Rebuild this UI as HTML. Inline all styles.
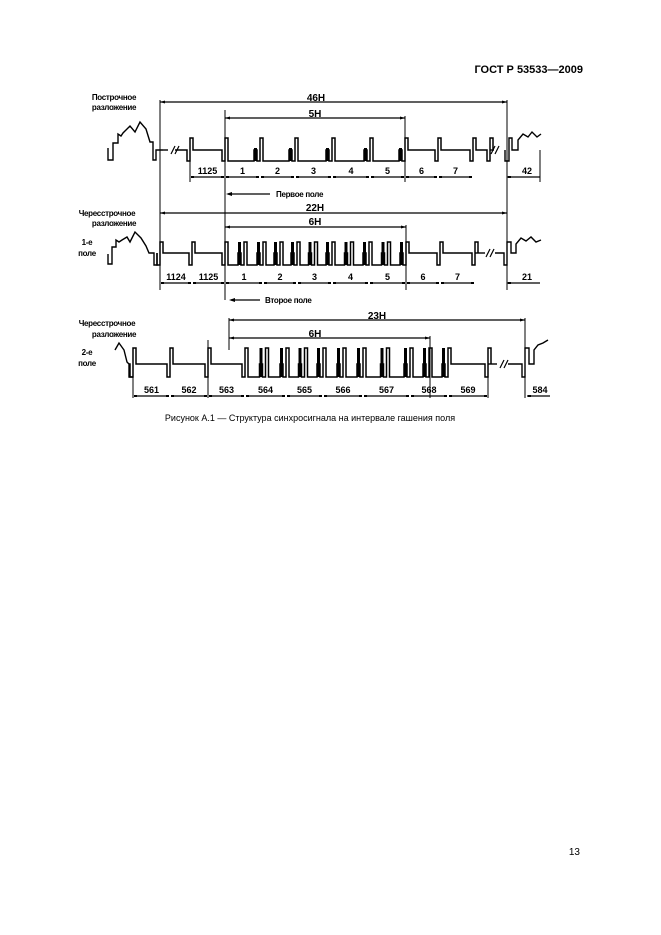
<!DOCTYPE html>
<html><head><meta charset="utf-8"><style>
html,body{margin:0;padding:0;background:#fff}
svg{display:block}
text{font-family:"Liberation Sans",sans-serif;fill:#000}
</style></head><body>
<svg id="s" width="661" height="935" viewBox="0 0 661 935" xmlns="http://www.w3.org/2000/svg">
<text x="583" y="73" font-size="11" font-weight="bold" text-anchor="end">ГОСТ Р 53533—2009</text>
<g font-size="8" font-weight="bold" letter-spacing="-0.3">
<text x="114" y="100" text-anchor="middle">Построчное</text>
<text x="114" y="110" text-anchor="middle">разложение</text>
<text x="107" y="216" text-anchor="middle">Чересстрочное</text>
<text x="114" y="226" text-anchor="middle">разложение</text>
<text x="87" y="245" text-anchor="middle">1-е</text>
<text x="87" y="256" text-anchor="middle">поле</text>
<text x="107" y="326" text-anchor="middle">Чересстрочное</text>
<text x="114" y="337" text-anchor="middle">разложение</text>
<text x="87" y="355" text-anchor="middle">2-е</text>
<text x="87" y="366" text-anchor="middle">поле</text>
<text x="276" y="197" font-size="8">Первое поле</text>
<text x="265" y="303" font-size="8">Второе поле</text>
</g>
<g font-size="10" font-weight="bold" text-anchor="middle">
<text x="316" y="101">46H</text>
<text x="315" y="117">5H</text>
<text x="315" y="211">22H</text>
<text x="315" y="225">6H</text>
<text x="377" y="319">23H</text>
<text x="315" y="337">6H</text>
</g>
<g id="g" stroke="#000" fill="none" stroke-width="1.4"></g>
<g id="t" font-size="9" font-weight="bold" text-anchor="middle"></g>
<text x="310" y="421" font-size="9" text-anchor="middle">Рисунок А.1 — Структура синхросигнала на интервале гашения поля</text>
<text x="580" y="855" font-size="10" text-anchor="end">13</text>
</svg>
<script>
var g=document.getElementById('g'),t=document.getElementById('t'),NS='http://www.w3.org/2000/svg';
function el(n,a,p){var e=document.createElementNS(NS,n);for(var k in a)e.setAttribute(k,a[k]);(p||g).appendChild(e);return e;}
function ln(x1,y1,x2,y2,w){el('line',{x1:x1,y1:y1,x2:x2,y2:y2,'stroke-width':w||1});}
function arrow(x1,x2,y){ln(x1,y,x2,y,1.3);el('path',{d:'M'+x1+' '+y+'l5 -1.5v3z',fill:'#000','stroke-width':0});el('path',{d:'M'+x2+' '+y+'l-5 -1.5v3z',fill:'#000','stroke-width':0});}
function txt(x,y,s,sz){var e=el('text',{x:x,y:y},t);if(sz)e.setAttribute('font-size',sz);e.textContent=s;}
function rect(x,y,w,h){el('rect',{x:x,y:y,width:w,height:h,fill:'#000','stroke-width':0});}
function dims(b,y,labels,ly){for(var i=0;i<labels.length;i++){var a=b[i],c=b[i+1];ln(a+1,y,c-1,y,1.2);rect(a+1,y-1,3,2);rect(c-4,y-1,3,2);txt((a+c)/2,ly,labels[i]);}}
function wave(row){
 var T=row.top,B=row.blank,L=row.low,d='M'+row.start[0][0]+' '+row.start[0][1];
 row.start.forEach(function(p,i){if(i)d+=' L'+p[0]+' '+p[1];});
 var b=row.b;
 for(var i=0;i<b.length;i++){
  var x=b[i],typ=row.types[i],nx=(i+1<b.length)?b[i+1]:null;
  d+=' L'+(x-3)+' '+B+' L'+(x-3)+' '+L+' L'+x+' '+L+' L'+x+' '+T+' L'+(x+3)+' '+T;
  if(typ==='n'){d+=' L'+(x+3)+' '+B; if(nx)d+=' L'+(nx-3)+' '+B;}
  else if(typ==='b'){d+=' L'+(x+3)+' '+L+' L'+(nx-6)+' '+L+' L'+(nx-6)+' '+B+' L'+(nx-3)+' '+B; rect(nx-6,B-2,3,L-B+2);}
  else if(typ==='s'){var m=(x+nx)/2;
   d+=' L'+(x+3)+' '+L+' L'+(m-6)+' '+L+' L'+(m-6)+' '+B+' L'+(m-3)+' '+B+' L'+(m-3)+' '+L+' L'+m+' '+L+' L'+m+' '+T+' L'+(m+3)+' '+T+' L'+(m+3)+' '+L+' L'+(nx-6)+' '+L+' L'+(nx-6)+' '+B+' L'+(nx-3)+' '+B;
   rect(m-6,T,3,L-T);rect(nx-6,T,3,L-T);}
 }
 el('path',{d:d,'stroke-width':1.5});
}
function brk(x,y){ln(x-3,y+4,x+1,y-4,1.2);ln(x+1,y+4,x+5,y-4,1.2);}
// ROW 1
arrow(160,507,102);arrow(225,405,118);
ln(160,100,160,290);ln(225,110,225,300);ln(405,116,405,182);ln(507,100,507,290);
ln(190,150,190,182);ln(540,150,540,182);
el('path',{d:'M108 148 L108 160 L113 160 L113 143 L118 143 L118 134 L121 136 L123 133 L126 130 L130 126 L135 132 L140 122 L146 129 L150 142 L153 142 L153 160 L156 160 L156 150 L163 150'});
wave({top:138,blank:150,low:161,start:[[175,150]],b:[190,225,260,295,332,370,405,438,473,490],types:['n','b','b','b','b','b','n','n','n','n']});
el('path',{d:'M505 150 L505 161 L509 161 L509 138 L512 138 L512 150 L518 150 L518 140 L523 134 L528 137 L532 132 L537 137 L541 134'});
el('path',{d:'M163 150 L168 150'});el('path',{d:'M490 150 L494 150'});
brk(174,150);brk(494,150);
dims([190,225,260,295,332,370,405,438,473],177,['1125','1','2','3','4','5','6','7'],174);
ln(507,177,540,177,1.2);rect(508,176,3,2);txt(527,174,'42');
ln(228,194,270,194,1.2);el('path',{d:'M226 194l6 -2v4z',fill:'#000','stroke-width':0});
// ROW 2
arrow(160,507,213);arrow(225,406,227);ln(406,225,406,290);
el('path',{d:'M108 254 L108 264 L112 264 L112 247 L116 247 L116 240 L119 242 L122 240 L127 237 L130 242 L135 232 L141 238 L146 246 L149 253 L154 253 L154 265 L157 265 L157 253'});
wave({top:242,blank:253,low:265,start:[[157,253]],b:[160,192,225,263,297,332,369,406,440,475],types:['n','n','s','s','s','s','s','n','n','n']});
el('path',{d:'M475 253 L485 253'});brk(489,253);
el('path',{d:'M495 253 L504 253 L504 265 L507 265 L507 242 L511 242 L511 253 L516 253 L516 244 L521 238 L526 241 L531 237 L536 242 L541 240'});
dims([160,192,225,263,297,332,369,406,440,475],283,['1124','1125','1','2','3','4','5','6','7'],280);
ln(507,283,540,283,1.2);rect(508,282,3,2);txt(527,280,'21');
ln(231,300,260,300,1.2);el('path',{d:'M229 300l6 -2v4z',fill:'#000','stroke-width':0});
// ROW 3
arrow(229,525,320);arrow(229,430,338);
ln(229,318,229,350);ln(525,318,525,398);ln(430,336,430,398);ln(208,340,208,398);
el('path',{d:'M115 350 L119 343 L124 350 L127 362 L129 364 L129 377 L133 377'});
wave({top:348,blank:364,low:377,start:[[129,364]],b:[133,170,208,245,286,323,363,410,448,488],types:['n','n','n','s','s','s','s','s','n','n']});
el('path',{d:'M488 364 L497 364'});brk(503,364);
el('path',{d:'M508 364 L522 364 L522 377 L525 377 L525 348 L529 348 L529 364 L534 364 L534 350 L538 345 L543 343 L548 340'});
ln(133,364,133,398);ln(488,377,488,398);
dims([133,170,208,245,286,323,363,410,448,488],396,['561','562','563','564','565','566','567','568','569'],393);
ln(527,396,550,396,1.2);rect(528,395,3,2);txt(540,393,'584');
</script>
</body></html>
